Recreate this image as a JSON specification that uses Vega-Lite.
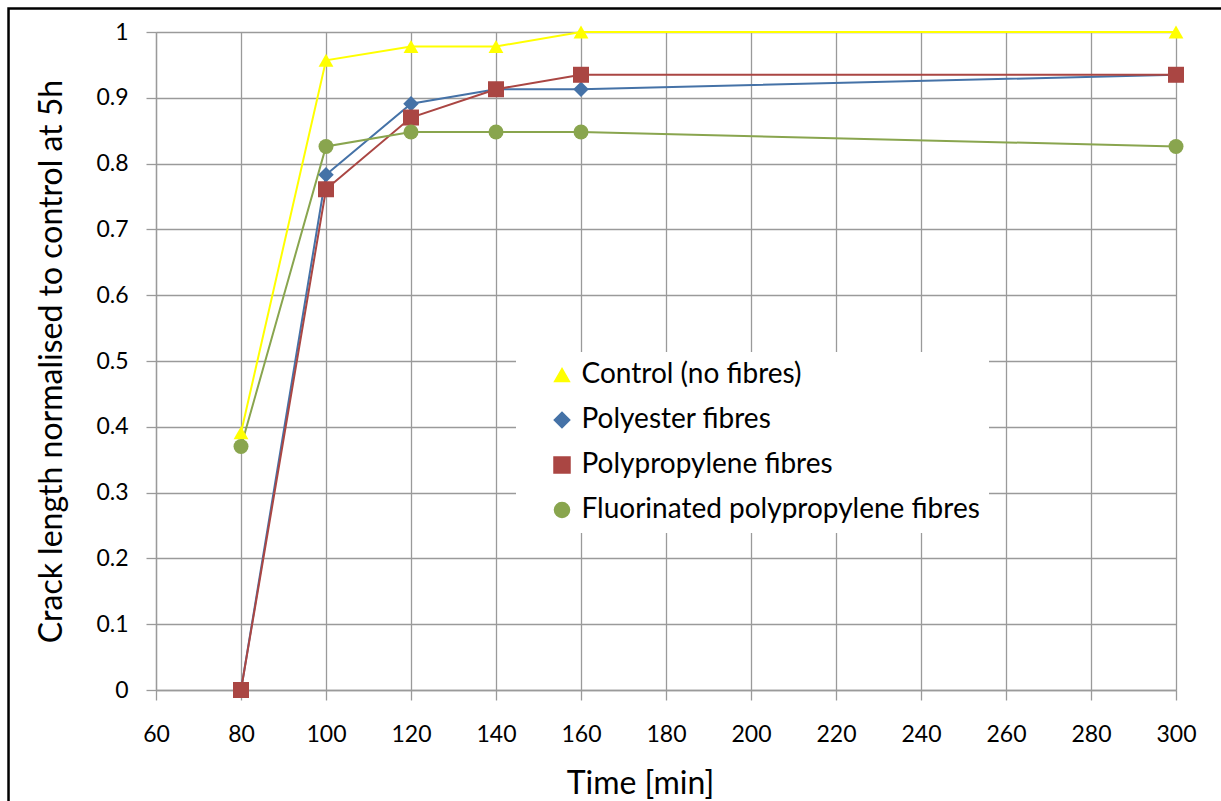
{
  "$schema": "https://vega.github.io/schema/vega-lite/v6.json",
  "width": 1020,
  "height": 658,
  "autosize": {"type": "none"},
  "padding": {"left": 156, "top": 32, "right": 45, "bottom": 111},
  "background": "white",
  "config": {
    "font": "Lato",
    "view": {"stroke": null},
    "axis": {
      "grid": true,
      "gridColor": "#9a9a9a",
      "gridWidth": 1.3,
      "domainColor": "#9a9a9a",
      "domainWidth": 1.3,
      "tickColor": "#9a9a9a",
      "tickWidth": 1.3,
      "tickSize": 10,
      "labelColor": "#000000",
      "labelFontSize": 23,
      "labelFlush": false,
      "labelOverlap": false,
      "titleColor": "#000000",
      "titleFontSize": 32,
      "titleFontWeight": "normal"
    },
    "legend": {
      "orient": "none",
      "legendX": 360,
      "legendY": 320,
      "fillColor": "#ffffff",
      "padding": 9,
      "symbolSize": 1089,
      "symbolOffset": 23,
      "labelOffset": 5.5,
      "labelFontSize": 28,
      "labelColor": "#000000",
      "labelLimit": 600,
      "rowPadding": 17
    }
  },
  "data": {
    "values": [
      {"t": 80, "v": 0.391, "s": "Control (no fibres)"},
      {"t": 100, "v": 0.957, "s": "Control (no fibres)"},
      {"t": 120, "v": 0.978, "s": "Control (no fibres)"},
      {"t": 140, "v": 0.978, "s": "Control (no fibres)"},
      {"t": 160, "v": 1.0, "s": "Control (no fibres)"},
      {"t": 300, "v": 1.0, "s": "Control (no fibres)"},
      {"t": 80, "v": 0.0, "s": "Polyester fibres"},
      {"t": 100, "v": 0.783, "s": "Polyester fibres"},
      {"t": 120, "v": 0.891, "s": "Polyester fibres"},
      {"t": 140, "v": 0.913, "s": "Polyester fibres"},
      {"t": 160, "v": 0.913, "s": "Polyester fibres"},
      {"t": 300, "v": 0.935, "s": "Polyester fibres"},
      {"t": 80, "v": 0.0, "s": "Polypropylene fibres"},
      {"t": 100, "v": 0.761, "s": "Polypropylene fibres"},
      {"t": 120, "v": 0.870, "s": "Polypropylene fibres"},
      {"t": 140, "v": 0.913, "s": "Polypropylene fibres"},
      {"t": 160, "v": 0.935, "s": "Polypropylene fibres"},
      {"t": 300, "v": 0.935, "s": "Polypropylene fibres"},
      {"t": 80, "v": 0.370, "s": "Fluorinated polypropylene fibres"},
      {"t": 100, "v": 0.826, "s": "Fluorinated polypropylene fibres"},
      {"t": 120, "v": 0.848, "s": "Fluorinated polypropylene fibres"},
      {"t": 140, "v": 0.848, "s": "Fluorinated polypropylene fibres"},
      {"t": 160, "v": 0.848, "s": "Fluorinated polypropylene fibres"},
      {"t": 300, "v": 0.826, "s": "Fluorinated polypropylene fibres"}
    ]
  },
  "layer": [
    {
      "data": {"values": [{}]},
      "mark": {"type": "rect", "fill": null, "stroke": "#000000", "strokeWidth": 2.5, "clip": false},
      "encoding": {
        "x": {"datum": 25.3, "type": "quantitative"},
        "x2": {"datum": 400},
        "y": {"datum": 1.0357, "type": "quantitative"},
        "y2": {"datum": -0.5}
      }
    },
    {
      "mark": {"type": "line", "strokeWidth": 2},
      "encoding": {
        "x": {
          "field": "t",
          "type": "quantitative",
          "scale": {"domain": [60, 300], "nice": false, "zero": false},
          "axis": {
            "values": [60, 80, 100, 120, 140, 160, 180, 200, 220, 240, 260, 280, 300],
            "labelPadding": 23,
            "title": "Time [min]",
            "titlePadding": 22,
            "titleX": 484
          }
        },
        "y": {
          "field": "v",
          "type": "quantitative",
          "scale": {"domain": [0, 1], "nice": false},
          "axis": {
            "values": [0, 0.1, 0.2, 0.3, 0.4, 0.5, 0.6, 0.7, 0.8, 0.9, 1],
            "format": "~g",
            "labelPadding": 18,
            "title": "Crack length normalised to control at 5h",
            "titlePadding": 27
          }
        },
        "color": {
          "field": "s",
          "type": "nominal",
          "title": null,
          "scale": {
            "domain": ["Control (no fibres)", "Polyester fibres", "Polypropylene fibres", "Fluorinated polypropylene fibres"],
            "range": ["#FFFF00", "#4572A7", "#AA4643", "#89A54E"]
          }
        }
      }
    },
    {
      "mark": {"type": "point", "filled": true, "opacity": 1, "strokeWidth": 0},
      "encoding": {
        "x": {"field": "t", "type": "quantitative"},
        "y": {"field": "v", "type": "quantitative"},
        "color": {
          "field": "s",
          "type": "nominal",
          "title": null,
          "scale": {
            "domain": ["Control (no fibres)", "Polyester fibres", "Polypropylene fibres", "Fluorinated polypropylene fibres"],
            "range": ["#FFFF00", "#4572A7", "#AA4643", "#89A54E"]
          },
          "legend": {"title": null}
        },
        "shape": {
          "field": "s",
          "type": "nominal",
          "title": null,
          "scale": {
            "domain": ["Control (no fibres)", "Polyester fibres", "Polypropylene fibres", "Fluorinated polypropylene fibres"],
            "range": ["triangle-up", "diamond", "square", "circle"]
          }
        },
        "size": {
          "field": "s",
          "type": "nominal",
          "scale": {
            "type": "ordinal",
            "domain": ["Control (no fibres)", "Polyester fibres", "Polypropylene fibres", "Fluorinated polypropylene fibres"],
            "range": [220, 240, 256, 225]
          },
          "legend": null
        }
      }
    }
  ]
}
